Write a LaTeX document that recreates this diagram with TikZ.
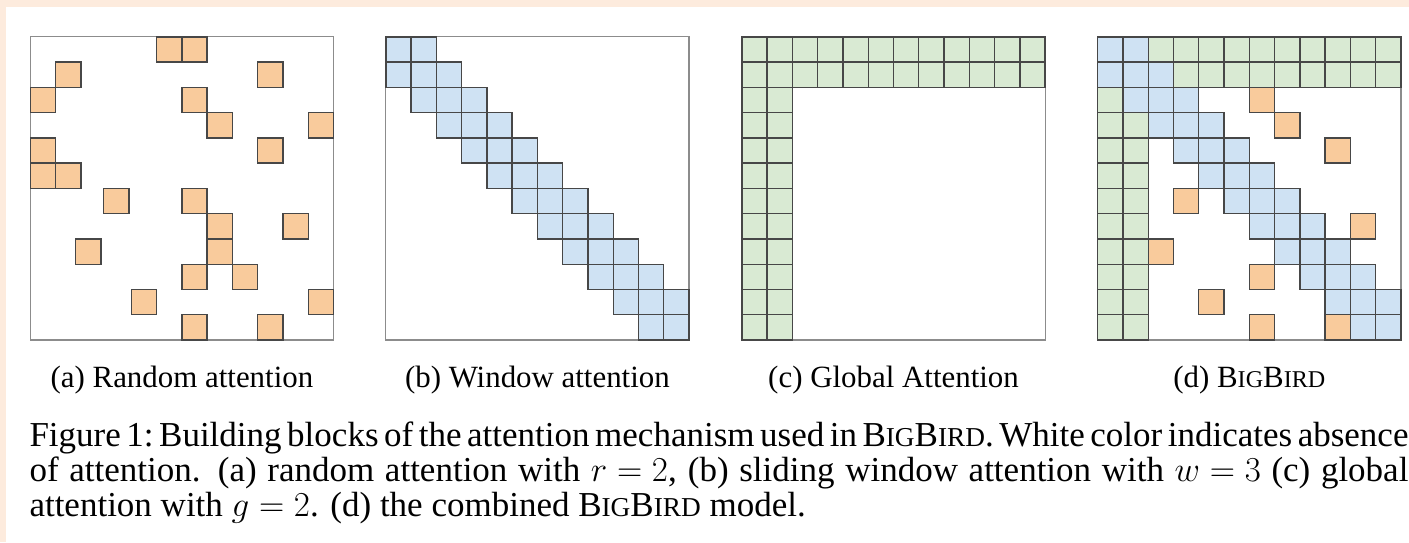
\documentclass[tikz,border=0pt]{standalone}
\usepackage{fix-cm}
\usepackage[no-math]{fontspec}
\setmainfont{Liberation Serif}
\definecolor{peachbg}{HTML}{FDEBDD}
\definecolor{orangecell}{HTML}{F9CB9C}
\definecolor{bluecell}{HTML}{CFE2F3}
\definecolor{greencell}{HTML}{D9EAD3}
% math spacing that does not stretch in the justified caption lines
\thickmuskip=5mu\relax
\medmuskip=4mu\relax
% capitals set smaller, in place of small capitals
\newcommand\fakesc[1]{{\fontsize{0.78em}{0.78em}\selectfont #1}}
\newcommand\bigbirdname{B\fakesc{IG}B\fakesc{IRD}}
\def\cellsz{25.27}
\def\gridtop{36.8}
\newdimen\capwidth
\capwidth=1379pt\relax
% one square of an attention grid: panel left x, column, row, fill colour
\newcommand\cellat[4]{%
  \filldraw[cellbox, fill=#4] ({#1+(#2)*\cellsz},{\gridtop+(#3)*\cellsz}) rectangle ++(\cellsz,\cellsz);}
\tikzset{
  cellbox/.style={draw=black!72, line width=1.4pt},
  gridframe/.style={draw=black!45, line width=1.1pt},
  subcap/.style={anchor=base, inner sep=0pt, font=\fontsize{30.9}{35}\selectfont},
  capline/.style={anchor=base west, inner sep=0pt, font=\fontsize{35}{35}\selectfont},
}
\begin{document}
\begin{tikzpicture}[x=1pt,y=-1pt]
\useasboundingbox (0,0) rectangle (1409,542);
\fill[white] (0,0) rectangle (1409,542);
\fill[peachbg] (0,0) rectangle (1409,7);
\fill[peachbg] (0,0) rectangle (6,542);

\def\xa{30.3}\def\xb{385.8}\def\xc{741.9}\def\xd{1097.7}

% (a) random attention
\draw[gridframe] (\xa,\gridtop) rectangle ++(12*\cellsz,12*\cellsz);
\foreach \c/\r in {5/0,6/0,1/1,9/1,0/2,6/2,7/3,11/3,0/4,9/4,0/5,1/5,2.9/6,6/6,7/7,10/7,1.8/8,7/8,6/9,8/9,4/10,11/10,6/11,9/11}
  {\cellat{\xa}{\c}{\r}{orangecell}}

% (b) window attention
\draw[gridframe] (\xb,\gridtop) rectangle ++(12*\cellsz,12*\cellsz);
\foreach \r in {0,...,11}{
  \foreach \c in {0,...,11}{
    \pgfmathtruncatemacro\dd{abs(\r-\c)}
    \ifnum\dd<2 \cellat{\xb}{\c}{\r}{bluecell}\fi
  }}

% (c) global attention
\draw[gridframe] (\xc,\gridtop) rectangle ++(12*\cellsz,12*\cellsz);
\foreach \r in {0,...,11}{
  \foreach \c in {0,...,11}{
    \ifnum\r<2 \cellat{\xc}{\c}{\r}{greencell}\else
      \ifnum\c<2 \cellat{\xc}{\c}{\r}{greencell}\fi\fi
  }}

% (d) combined pattern
\draw[gridframe] (\xd,\gridtop) rectangle ++(12*\cellsz,12*\cellsz);
\foreach \r in {0,...,11}{
  \foreach \c in {0,...,11}{
    \pgfmathtruncatemacro\dd{abs(\r-\c)}
    \ifnum\dd<2 \cellat{\xd}{\c}{\r}{bluecell}\else
      \ifnum\r<2 \cellat{\xd}{\c}{\r}{greencell}\else
        \ifnum\c<2 \cellat{\xd}{\c}{\r}{greencell}\fi\fi\fi
  }}
\foreach \c/\r in {6/2,7/3,9/4,3/6,10/7,2/8,6/9,4/10,6/11,9/11}
  {\cellat{\xd}{\c}{\r}{orangecell}}

% sub-captions
\node[subcap] (capa) at ({\xa+6*\cellsz},387) {(a) Random attention};
\node[subcap] (capb) at ({\xb+6*\cellsz},387) {(b) Window attention};
\node[subcap] (capc) at ({\xc+6*\cellsz},387) {(c) Global Attention};
\node[subcap] (capd) at ({\xd+6*\cellsz},387) {(d) \bigbirdname};

% figure caption, one justified line per node
\node[capline] (cap1) at (29.3,446)
  {\frenchspacing\spaceskip=0.16em plus 0.1em minus 0.04em\relax
   \hbox to\capwidth{Figure 1: Building blocks of the attention mechanism used in \bigbirdname. White color indicates absence}};
\node[capline] (cap2) at (29.3,481)
  {\hbox to\capwidth{of attention. (a) random attention with $r=2$, (b) sliding window attention with $w=3$ (c) global}};
\node[capline] (cap3) at (29.3,516)
  {attention with $g=2$. (d) the combined \bigbirdname{} model.};
\end{tikzpicture}
\end{document}
